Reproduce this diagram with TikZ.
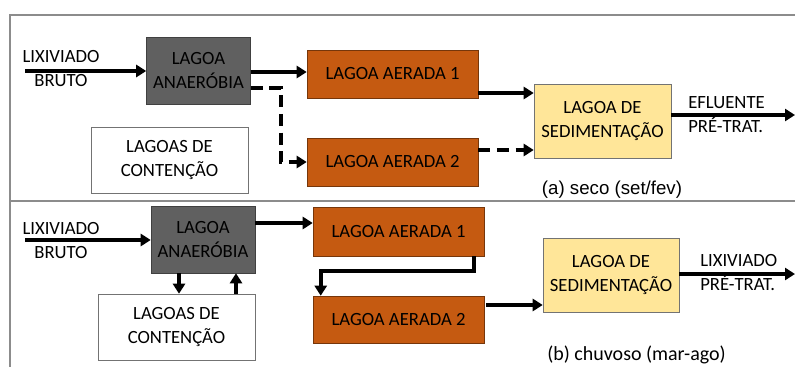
\documentclass[tikz,border=0pt]{standalone}
\usepackage{fontspec}
\setmainfont{Carlito}
\newfontfamily\arialfont{Liberation Sans}
\usepackage{tikz}
\usetikzlibrary{arrows.meta,positioning,calc}
\definecolor{anagray}{HTML}{606060}
\definecolor{aerorange}{HTML}{C55A11}
\definecolor{sedyellow}{HTML}{FFE699}
\definecolor{framegray}{HTML}{8C8C8C}
\tikzset{lagoa/.style={rectangle,draw,inner sep=0pt,align=center,font=\fontsize{14}{18}\selectfont},anaerobia/.style={lagoa,fill=anagray,draw=black!75,minimum width=104*.75pt,minimum height=67*.75pt},aerada/.style={lagoa,fill=aerorange,draw=aerorange!60!black,minimum width=171*.75pt,minimum height=48*.75pt},sedim/.style={lagoa,fill=sedyellow,draw=black!55,minimum width=137*.75pt,minimum height=74*.75pt},contencao/.style={lagoa,fill=white,draw=black!55,minimum width=157*.75pt,minimum height=66*.75pt},rotulo/.style={align=center,inner sep=0pt,font=\fontsize{14}{18}\selectfont},fluxo/.style={-{Triangle[length=7.5pt,width=9pt]},line width=3pt},frame/.style={framegray,line width=1.2pt}}

\begin{document}
\begin{tikzpicture}[x=.75pt,y=-.75pt]
\useasboundingbox (0,0) rectangle (795,367);
% moldura
\draw[frame] (795,15)--(10,15)--(10,367);
\draw[frame] (10,201)--(795,201);
% (a) seco
\node[rotulo] (inA) at (61,69) {LIXIVIADO\\BRUTO};
\coordinate (srcA) at (25,71);
\node[anaerobia] (anaA) at (198.5,70.5) {LAGOA\\ANAERÓBIA};
\node[contencao] (contA) at (169.5,160) {LAGOAS DE\\CONTENÇÃO};
\node[aerada] (aer1A) at (392.5,74) {LAGOA AERADA 1};
\node[aerada] (aer2A) at (392.5,162) {LAGOA AERADA 2};
\node[sedim] (sedA) at (602.5,121) {LAGOA DE\\SEDIMENTAÇÃO};
\node[rotulo,align=left,anchor=west] (outtxtA) at (688,115) {EFLUENTE\\PRÉ-TRAT.};
\coordinate (outA) at (795,115);
\node[inner sep=0pt,font=\arialfont\fontsize{14}{18}\selectfont] (capA) at (612,190) {(a) seco (set/fev)};
\draw[fluxo] (srcA)--(srcA-|anaA.west);
\draw[fluxo] ($(anaA.east)+(0,1.5)$)--(aer1A.west|-{$(anaA.east)+(0,1.5)$});
\draw[fluxo,dash pattern=on 9pt off 5pt] ($(anaA.east)+(0,17.5)$)--++(30,0)|-(aer2A.west);
\draw[fluxo] ($(aer1A.east)+(0,19)$)--(sedA.west|-{$(aer1A.east)+(0,19)$});
\draw[fluxo,dash pattern=on 9pt off 5pt] ($(aer2A.east)+(0,-12)$)--(sedA.west|-{$(aer2A.east)+(0,-12)$});
\draw[fluxo] (sedA.east|-outA)--(outA);
% (b) chuvoso
\node[rotulo] (inB) at (61,240.5) {LIXIVIADO\\BRUTO};
\coordinate (srcB) at (25,240);
\node[anaerobia] (anaB) at (203,239.5) {LAGOA\\ANAERÓBIA};
\node[contencao] (contB) at (176.5,327) {LAGOAS DE\\CONTENÇÃO};
\node[aerada,minimum height=49*.75pt] (aer1B) at (398.5,231.5) {LAGOA AERADA 1};
\node[aerada,minimum height=47*.75pt] (aer2B) at (398.5,319.5) {LAGOA AERADA 2};
\node[sedim,minimum width=136*.75pt] (sedB) at (611,275) {LAGOA DE\\SEDIMENTAÇÃO};
\node[rotulo,align=left,anchor=west] (outtxtB) at (700,272.5) {LIXIVIADO\\PRÉ-TRAT.};
\coordinate (outB) at (795,274);
\node[inner sep=0pt,font=\fontsize{15}{18}\selectfont] (capB) at (636.5,355) {(b) chuvoso (mar-ago)};
\draw[fluxo] (srcB)--(srcB-|anaB.west);
\draw[fluxo] (anaB.south-|179,0)--(contB.north-|179,0);
\draw[fluxo] (contB.north-|236,0)--(anaB.south-|236,0);
\draw[fluxo] ($(anaB.east)+(0,-16.5)$)--(aer1B.west|-{$(anaB.east)+(0,-16.5)$});
\draw[fluxo] ($(aer1B.south east)+(-10,0)$)--++(0,15)-|($(aer2B.north west)+(8,0)$);
\draw[fluxo] ($(aer2B.east)+(2,-14.5)$)--(sedB.west|-{$(aer2B.east)+(0,-14.5)$});
\draw[fluxo] (sedB.east|-outB)--(outB);
\end{tikzpicture}
\end{document}
